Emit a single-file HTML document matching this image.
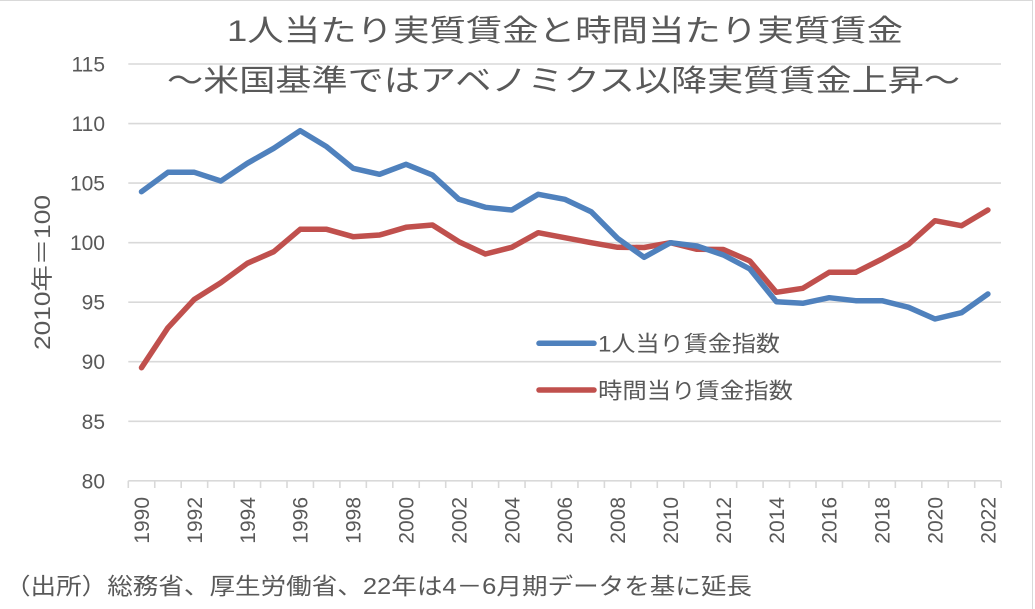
<!DOCTYPE html>
<html>
<head>
<meta charset="utf-8">
<style>
  html, body { margin: 0; padding: 0; background: #ffffff; }
  body { width: 1035px; height: 609px; overflow: hidden; }
  svg { display: block; }
  text { font-family: "Liberation Sans", "Noto Sans CJK JP", sans-serif; fill: #595959; }
</style>
</head>
<body>
<svg width="1035" height="609" viewBox="0 0 1035 609" xmlns="http://www.w3.org/2000/svg">
  <rect x="0" y="0" width="1035" height="609" fill="#ffffff"/>
  <!-- frame -->
  <line x1="0" y1="0.5" x2="1033" y2="0.5" stroke="#d9d9d9" stroke-width="1"/>
  <line x1="1032.5" y1="0" x2="1032.5" y2="609" stroke="#d9d9d9" stroke-width="1"/>

  <!-- gridlines -->
  <g stroke="#d9d9d9" stroke-width="1.6">
    <line x1="128.3" y1="64" x2="1001" y2="64"/>
    <line x1="128.3" y1="123.6" x2="1001" y2="123.6"/>
    <line x1="128.3" y1="183.1" x2="1001" y2="183.1"/>
    <line x1="128.3" y1="242.7" x2="1001" y2="242.7"/>
    <line x1="128.3" y1="302.2" x2="1001" y2="302.2"/>
    <line x1="128.3" y1="361.7" x2="1001" y2="361.7"/>
    <line x1="128.3" y1="421.3" x2="1001" y2="421.3"/>
    <line x1="128.3" y1="480.8" x2="1001.2" y2="480.8"/>
  </g>
  <!-- ticks -->
  <g stroke="#d9d9d9" stroke-width="1.6">
    <line x1="128.3" y1="480.8" x2="128.3" y2="488"/>
    <line x1="154.75" y1="480.8" x2="154.75" y2="488"/>
    <line x1="181.2" y1="480.8" x2="181.2" y2="488"/>
    <line x1="207.65" y1="480.8" x2="207.65" y2="488"/>
    <line x1="234.1" y1="480.8" x2="234.1" y2="488"/>
    <line x1="260.55" y1="480.8" x2="260.55" y2="488"/>
    <line x1="287" y1="480.8" x2="287" y2="488"/>
    <line x1="313.45" y1="480.8" x2="313.45" y2="488"/>
    <line x1="339.9" y1="480.8" x2="339.9" y2="488"/>
    <line x1="366.35" y1="480.8" x2="366.35" y2="488"/>
    <line x1="392.8" y1="480.8" x2="392.8" y2="488"/>
    <line x1="419.25" y1="480.8" x2="419.25" y2="488"/>
    <line x1="445.7" y1="480.8" x2="445.7" y2="488"/>
    <line x1="472.15" y1="480.8" x2="472.15" y2="488"/>
    <line x1="498.6" y1="480.8" x2="498.6" y2="488"/>
    <line x1="525.05" y1="480.8" x2="525.05" y2="488"/>
    <line x1="551.5" y1="480.8" x2="551.5" y2="488"/>
    <line x1="577.95" y1="480.8" x2="577.95" y2="488"/>
    <line x1="604.4" y1="480.8" x2="604.4" y2="488"/>
    <line x1="630.85" y1="480.8" x2="630.85" y2="488"/>
    <line x1="657.3" y1="480.8" x2="657.3" y2="488"/>
    <line x1="683.75" y1="480.8" x2="683.75" y2="488"/>
    <line x1="710.2" y1="480.8" x2="710.2" y2="488"/>
    <line x1="736.65" y1="480.8" x2="736.65" y2="488"/>
    <line x1="763.1" y1="480.8" x2="763.1" y2="488"/>
    <line x1="789.55" y1="480.8" x2="789.55" y2="488"/>
    <line x1="816" y1="480.8" x2="816" y2="488"/>
    <line x1="842.45" y1="480.8" x2="842.45" y2="488"/>
    <line x1="868.9" y1="480.8" x2="868.9" y2="488"/>
    <line x1="895.35" y1="480.8" x2="895.35" y2="488"/>
    <line x1="921.8" y1="480.8" x2="921.8" y2="488"/>
    <line x1="948.25" y1="480.8" x2="948.25" y2="488"/>
    <line x1="974.7" y1="480.8" x2="974.7" y2="488"/>
    <line x1="1001.15" y1="480.8" x2="1001.15" y2="488"/>
  </g>

  <!-- y tick labels -->
  <g font-size="21" text-anchor="end">
    <text x="105" y="71.5">115</text>
    <text x="105" y="131">110</text>
    <text x="105" y="190.6">105</text>
    <text x="105" y="250.2">100</text>
    <text x="105" y="309.7">95</text>
    <text x="105" y="369.2">90</text>
    <text x="105" y="428.8">85</text>
    <text x="105" y="488.3">80</text>
  </g>

  <!-- x tick labels -->
  <g font-size="21" text-anchor="end">
    <text transform="translate(149,497) rotate(-90)">1990</text>
    <text transform="translate(201.9,497) rotate(-90)">1992</text>
    <text transform="translate(254.8,497) rotate(-90)">1994</text>
    <text transform="translate(307.7,497) rotate(-90)">1996</text>
    <text transform="translate(360.6,497) rotate(-90)">1998</text>
    <text transform="translate(413.5,497) rotate(-90)">2000</text>
    <text transform="translate(466.4,497) rotate(-90)">2002</text>
    <text transform="translate(519.3,497) rotate(-90)">2004</text>
    <text transform="translate(572.2,497) rotate(-90)">2006</text>
    <text transform="translate(625.1,497) rotate(-90)">2008</text>
    <text transform="translate(678,497) rotate(-90)">2010</text>
    <text transform="translate(730.9,497) rotate(-90)">2012</text>
    <text transform="translate(783.8,497) rotate(-90)">2014</text>
    <text transform="translate(836.7,497) rotate(-90)">2016</text>
    <text transform="translate(889.6,497) rotate(-90)">2018</text>
    <text transform="translate(942.5,497) rotate(-90)">2020</text>
    <text transform="translate(995.4,497) rotate(-90)">2022</text>
  </g>

  <!-- y axis title -->
  <text transform="translate(50,350) rotate(-90)" font-size="22" textLength="155" lengthAdjust="spacingAndGlyphs">2010年＝100</text>

  <!-- title -->
  <text x="227" y="41" font-size="30" textLength="676" lengthAdjust="spacingAndGlyphs">1人当たり実質賃金と時間当たり実質賃金</text>
  <text x="167" y="91" font-size="30" textLength="793" lengthAdjust="spacingAndGlyphs">～米国基準ではアベノミクス以降実質賃金上昇～</text>

  <!-- series: time-based (red) -->
  <polyline fill="none" stroke="#c0504d" stroke-width="5.5" stroke-linejoin="round" stroke-linecap="round"
    points="141.5,367.7 167.95,327.7 194.4,299.3 220.85,282.7 247.3,263.3 273.75,251.7 300.2,229.3 326.65,229.3 353.1,236.7 379.55,235 406,227.3 432.45,225 458.9,241.7 485.35,254 511.8,247.3 538.25,232.7 564.7,237.7 591.15,242.7 617.6,247.3 644.05,247.5 670.5,242.7 696.95,249.3 723.4,249.5 749.85,261 776.3,292.3 802.75,288.3 829.2,272.3 855.65,272.3 882.1,259 908.55,244.3 935,220.7 961.45,225.7 987.9,210"/>
  <!-- series: per person (blue) -->
  <polyline fill="none" stroke="#4f81bd" stroke-width="5.5" stroke-linejoin="round" stroke-linecap="round"
    points="141.5,191.7 167.95,172.3 194.4,172.3 220.85,181 247.3,163.3 273.75,148.3 300.2,130.7 326.65,146.7 353.1,168.3 379.55,174.3 406,164.3 432.45,175 458.9,199.3 485.35,207.3 511.8,210 538.25,194.3 564.7,199.3 591.15,211.7 617.6,238.3 644.05,257.3 670.5,242.7 696.95,246 723.4,255 749.85,269 776.3,301.7 802.75,303.3 829.2,297.7 855.65,300.7 882.1,300.7 908.55,307.3 935,319 961.45,312.7 987.9,294"/>

  <!-- legend -->
  <line x1="539" y1="343.3" x2="594" y2="343.3" stroke="#4f81bd" stroke-width="5.5" stroke-linecap="round"/>
  <text x="598" y="351.5" font-size="22" textLength="182" lengthAdjust="spacingAndGlyphs">1人当り賃金指数</text>
  <line x1="539" y1="390" x2="594" y2="390" stroke="#c0504d" stroke-width="5.5" stroke-linecap="round"/>
  <text x="598" y="398.5" font-size="22" textLength="195" lengthAdjust="spacingAndGlyphs">時間当り賃金指数</text>

  <!-- footnote -->
  <text x="5" y="594" font-size="23" textLength="747" lengthAdjust="spacingAndGlyphs">（出所）総務省、厚生労働省、22年は4－6月期データを基に延長</text>
</svg>
</body>
</html>
